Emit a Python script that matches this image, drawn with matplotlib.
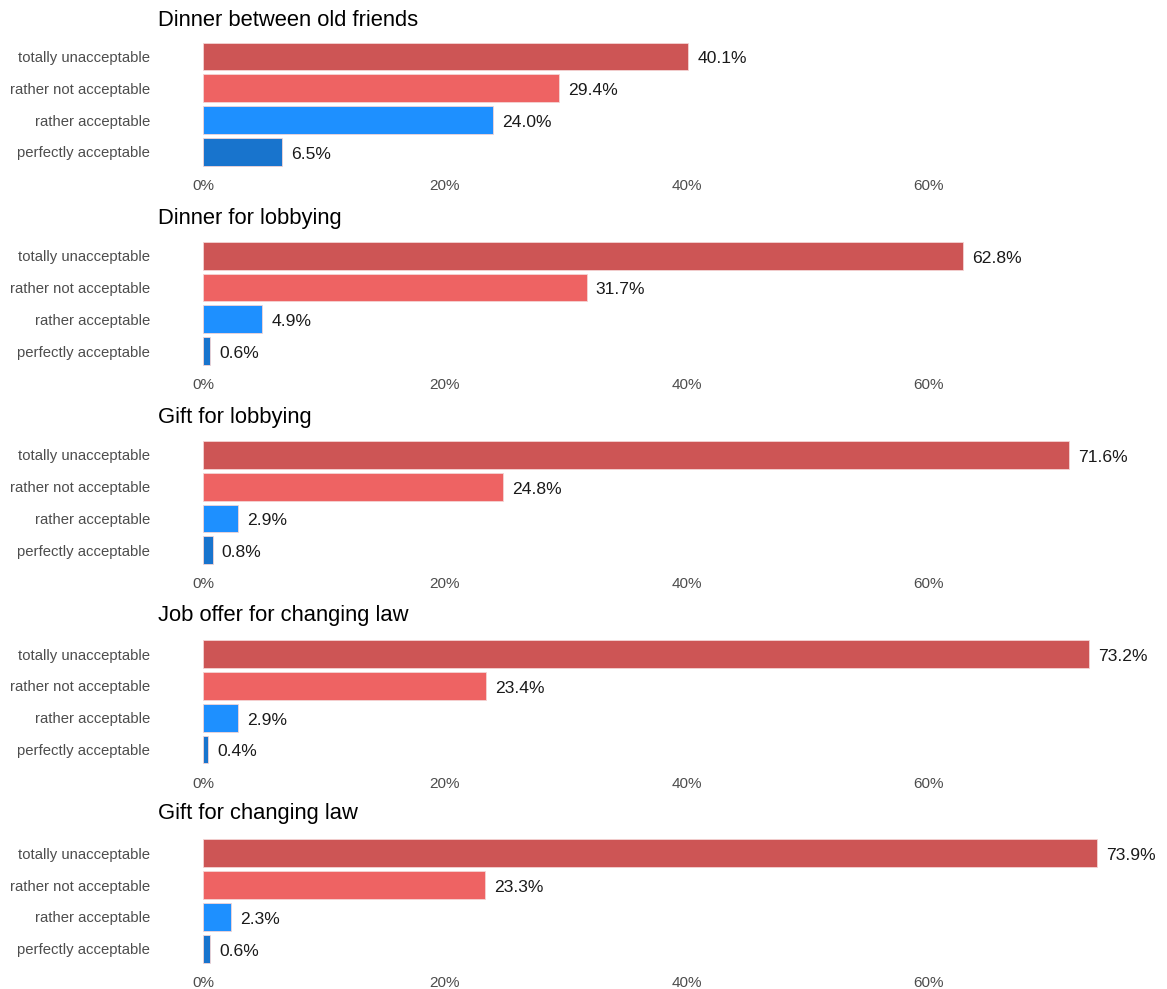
import matplotlib.pyplot as plt

plt.rcParams['font.family'] = ['Liberation Sans', 'DejaVu Sans']

# Survey answers per scenario (share of respondents, %)
titles = ["Dinner between old friends", "Dinner for lobbying", "Gift for lobbying",
          "Job offer for changing law", "Gift for changing law"]
answers = ["totally unacceptable", "rather not acceptable",
           "rather acceptable", "perfectly acceptable"]
dinner_friends = [40.1, 29.4, 24.0, 6.5]
dinner_lobbying = [62.8, 31.7, 4.9, 0.6]
gift_lobbying = [71.6, 24.8, 2.9, 0.8]
job_offer_law = [73.2, 23.4, 2.9, 0.4]
gift_law = [73.9, 23.3, 2.3, 0.6]
panels = [dinner_friends, dinner_lobbying, gift_lobbying, job_offer_law, gift_law]
xticks = [0, 20, 40, 60]

colors = ['#CD5555', '#EE6363', '#1E90FF', '#1874CD']

W, H = 1167, 989
fig = plt.figure(figsize=(W / 100, H / 100), dpi=100)

left, right = 203, 1159
pitch = 31.8
for k, (title, vals) in enumerate(zip(titles, panels)):
    top = 40.6 + 199.2 * k
    h = 4 * pitch
    ax = fig.add_axes([left / W, 1 - (top + h) / H, (right - left) / W, h / H])
    ypos = list(range(len(answers)))
    ax.barh(ypos, vals, height=0.88, color=colors, edgecolor='#f4d4d4', linewidth=0.6)
    for y, v in zip(ypos, vals):
        ax.text(v + 0.75, y + 0.03, f"{v:.1f}%", va='center_baseline', ha='left',
                fontsize=12.6, color='#1a1a1a')
    ax.set_xlim(0, (right - left) / 12.1)
    ax.set_ylim(3.5, -0.5)
    ax.set_yticks(ypos)
    ax.set_yticklabels(answers, fontsize=10.7, color='#4D4D4D')
    ax.set_xticks(xticks)
    ax.set_xticklabels([f"{t}%" for t in xticks], fontsize=11, color='#4D4D4D')
    ax.tick_params(axis='y', length=0, pad=38)
    ax.tick_params(axis='x', length=0, pad=8)
    for s in ax.spines.values():
        s.set_visible(False)
    fig.text(158 / W, 1 - (20 + 198.5 * k) / H, title, fontsize=15.8, va='center', ha='left', color='black')

plt.savefig("out.png", dpi=100, facecolor='white')
